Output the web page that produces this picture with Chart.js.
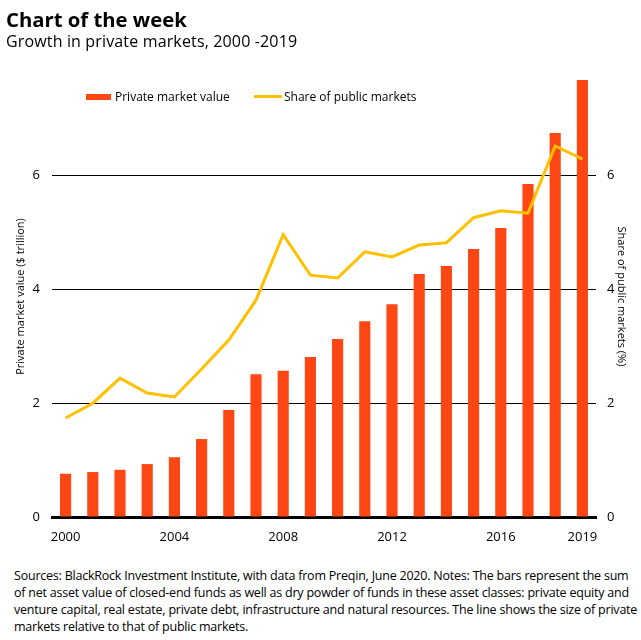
<!DOCTYPE html>
<html>
<head>
<meta charset="utf-8">
<script src="https://cdn.jsdelivr.net/npm/chart.js@4"></script>
<style>
  body { margin: 0; width: 641px; height: 640px; background: #fff; font-family: "Open Sans", sans-serif; color: #000; position: relative; overflow: hidden; }
  #title { position: absolute; left: 6px; top: 5px; font-size: 20.3px; font-weight: 700; }
  #subtitle { position: absolute; left: 6px; top: 30px; font-size: 16px; letter-spacing: 0.15px; }
  #wrap { position: absolute; left: 0; top: 0; width: 641px; height: 560px; }
  .legend { position: absolute; top: 88px; font-size: 12px; display: flex; align-items: center; }
  .sw-bar { width: 25px; height: 6px; background: #FF4713; margin-right: 4px; }
  .sw-line { width: 28px; height: 3px; background: #FFC000; margin-right: 2px; }
  #note { position: absolute; left: 14px; top: 567px; font-size: 12.5px; line-height: 17px; white-space: nowrap; letter-spacing: -0.22px; }
</style>
</head>
<body>
<div id="wrap"><canvas id="chart"></canvas></div>
<div id="title">Chart of the week</div>
<div id="subtitle">Growth in private markets, 2000 -2019</div>
<div class="legend" style="left:86px"><div class="sw-bar"></div>Private market value</div>
<div class="legend" style="left:254px"><div class="sw-line"></div>Share of public markets</div>
<div id="note">Sources: BlackRock Investment Institute, with data from Preqin, June 2020. Notes: The bars represent the sum<br>of net asset value of closed-end funds as well as dry powder of funds in these asset classes: private equity and<br>venture capital, real estate, private debt, infrastructure and natural resources. The line shows the size of private<br>markets relative to that of public markets.</div>
<script>
// Data
const years = ['2000', '2001', '2002', '2003', '2004', '2005', '2006', '2007', '2008', '2009',
               '2010', '2011', '2012', '2013', '2014', '2015', '2016', '2017', '2018', '2019'];
const privateValue = [0.76, 0.79, 0.83, 0.93, 1.05, 1.37, 1.88, 2.51, 2.57, 2.81,
                      3.13, 3.44, 3.74, 4.27, 4.41, 4.71, 5.08, 5.85, 6.75, 7.68];
const shareOfPublic = [1.74, 2.0, 2.44, 2.18, 2.11, 2.6, 3.11, 3.81, 4.96, 4.25,
                       4.2, 4.66, 4.57, 4.78, 4.82, 5.26, 5.38, 5.34, 6.52, 6.29];
const shownYears = ['2000', '2004', '2008', '2012', '2016', '2019'];
const valueTicks = [0, 2, 4, 6];

const tickFont = { family: 'Open Sans', size: 13 };
const titleFont = { family: 'Open Sans', size: 11 };

// keep only the round ticks (drop the axis max)
function keepRoundTicks(scale) {
    scale.ticks = valueTicks.map(v => ({ value: v }));
}

document.addEventListener('DOMContentLoaded', function() {
    const ctx = document.getElementById('chart').getContext('2d');
    new Chart(ctx, {
        data: {
            labels: years,
            datasets: [{
                type: 'line',
                label: 'Share of public markets',
                data: shareOfPublic,
                yAxisID: 'y2',
                borderColor: '#FFC000',
                borderWidth: 3,
                pointRadius: 0,
                tension: 0,
                order: 0
            }, {
                type: 'bar',
                label: 'Private market value',
                data: privateValue,
                yAxisID: 'y',
                backgroundColor: '#FF4713',
                categoryPercentage: 1,
                barPercentage: 0.41,
                order: 1
            }]
        },
        options: {
            responsive: true,
            maintainAspectRatio: false,
            animation: false,
            layout: { padding: { top: 76, left: 0, right: 0, bottom: 0 } },
            plugins: { legend: { display: false }, tooltip: { enabled: false } },
            scales: {
                x: {
                    offset: true,
                    grid: { display: false },
                    border: { color: '#000', width: 3 },
                    ticks: {
                        autoSkip: false,
                        maxRotation: 0,
                        color: '#000',
                        font: tickFont,
                        padding: 4,
                        callback: function(v) {
                            const lab = years[v];
                            return shownYears.includes(lab) ? lab : '';
                        }
                    },
                    afterFit: function(s) { s.height = 43; }
                },
                y: {
                    position: 'left',
                    min: 0,
                    max: 7.75,
                    afterBuildTicks: keepRoundTicks,
                    ticks: { color: '#000', font: tickFont, padding: 12 },
                    grid: {
                        color: ctx => ctx.tick.value === 0 ? 'rgba(0,0,0,0)' : '#000',
                        lineWidth: 1,
                        drawTicks: false
                    },
                    border: { display: false },
                    title: { display: true, text: 'Private market value ($ trillion)', color: '#000', font: titleFont, padding: { top: 14, bottom: 0 } },
                    afterFit: function(s) { s.width = 52; }
                },
                y2: {
                    position: 'right',
                    min: 0,
                    max: 7.75,
                    afterBuildTicks: keepRoundTicks,
                    ticks: { color: '#000', font: tickFont, padding: 11 },
                    grid: { display: false, drawTicks: false },
                    border: { display: false },
                    title: { display: true, text: 'Share of public markets (%)', color: '#000', font: titleFont, padding: { top: 13, bottom: 0 } },
                    afterFit: function(s) { s.width = 45; }
                }
            }
        }
    });
});
</script>
</body>
</html>
